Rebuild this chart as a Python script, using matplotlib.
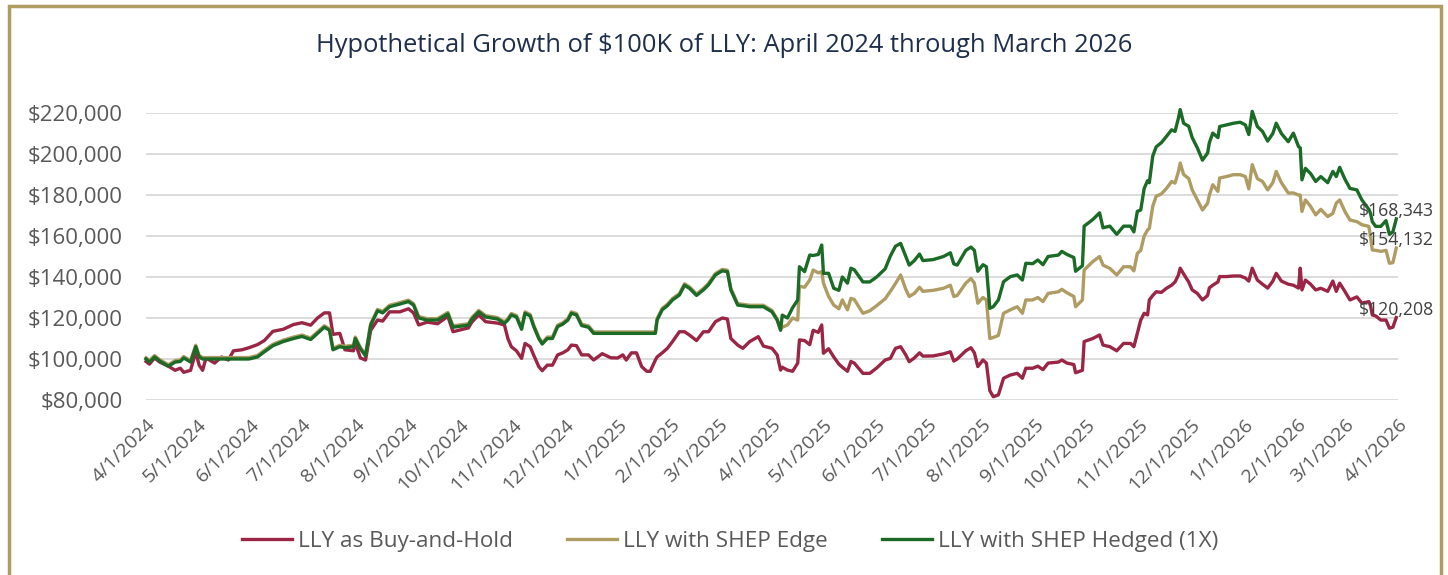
import matplotlib
matplotlib.use("Agg")
import matplotlib.pyplot as plt
import matplotlib.dates as mdates
import matplotlib.ticker as mticker
from matplotlib.patches import Rectangle
import numpy as np
import pandas as pd

plt.rcParams["font.family"] = ["Open Sans", "DejaVu Sans"]

# values, in $ thousands
dates = [
    "2024-04-01", "2024-04-03", "2024-04-06", "2024-04-09", "2024-04-14", "2024-04-18",
    "2024-04-21", "2024-04-23", "2024-04-27", "2024-04-30", "2024-05-02", "2024-05-04",
    "2024-05-06", "2024-05-11", "2024-05-15", "2024-05-19", "2024-05-22", "2024-05-27",
    "2024-05-31", "2024-06-05", "2024-06-09", "2024-06-14", "2024-06-20", "2024-06-26",
    "2024-07-01", "2024-07-06", "2024-07-10", "2024-07-14", "2024-07-17", "2024-07-19",
    "2024-07-23", "2024-07-26", "2024-07-31", "2024-08-01", "2024-08-04", "2024-08-07",
    "2024-08-10", "2024-08-14", "2024-08-17", "2024-08-21", "2024-08-27",
    "2024-09-01", "2024-09-04", "2024-09-07", "2024-09-12", "2024-09-18", "2024-09-24",
    "2024-09-27", "2024-10-06", "2024-10-08", "2024-10-12", "2024-10-16", "2024-10-23",
    "2024-10-27", "2024-10-29", "2024-10-31", "2024-11-03", "2024-11-06", "2024-11-08",
    "2024-11-11", "2024-11-13", "2024-11-16", "2024-11-18", "2024-11-21", "2024-11-24",
    "2024-11-27", "2024-11-30", "2024-12-03", "2024-12-05", "2024-12-08", "2024-12-11",
    "2024-12-15", "2024-12-18", "2024-12-23", "2024-12-28", "2025-01-01", "2025-01-04",
    "2025-01-06", "2025-01-09", "2025-01-12", "2025-01-15", "2025-01-18", "2025-01-20",
    "2025-01-23", "2025-01-24", "2025-01-27", "2025-01-30", "2025-02-02", "2025-02-06",
    "2025-02-09", "2025-02-12", "2025-02-16", "2025-02-20", "2025-02-23", "2025-02-27",
    "2025-03-03", "2025-03-06", "2025-03-08", "2025-03-12", "2025-03-15", "2025-03-19",
    "2025-03-24", "2025-03-27", "2025-04-01", "2025-04-04", "2025-04-06", "2025-04-07",
    "2025-04-10", "2025-04-13", "2025-04-16", "2025-04-17", "2025-04-20", "2025-04-23",
    "2025-04-25", "2025-04-28", "2025-04-30", "2025-05-01", "2025-05-04", "2025-05-07",
    "2025-05-10", "2025-05-12", "2025-05-15", "2025-05-17", "2025-05-19", "2025-05-24",
    "2025-05-28", "2025-06-01", "2025-06-06", "2025-06-09", "2025-06-12", "2025-06-15",
    "2025-06-18", "2025-06-20", "2025-06-23", "2025-06-26", "2025-06-28", "2025-07-04",
    "2025-07-10", "2025-07-14", "2025-07-16", "2025-07-18", "2025-07-23", "2025-07-26",
    "2025-07-28", "2025-07-30", "2025-08-02", "2025-08-04", "2025-08-06", "2025-08-08",
    "2025-08-11", "2025-08-14", "2025-08-18", "2025-08-22", "2025-08-25", "2025-08-27",
    "2025-08-31", "2025-09-03", "2025-09-06", "2025-09-09", "2025-09-15", "2025-09-17",
    "2025-09-20", "2025-09-24", "2025-09-25", "2025-09-29", "2025-09-30", "2025-10-05",
    "2025-10-09", "2025-10-11", "2025-10-15", "2025-10-19", "2025-10-23", "2025-10-27",
    "2025-10-29", "2025-10-31",
    "2025-11-02", "2025-11-04", "2025-11-06", "2025-11-07", "2025-11-09", "2025-11-11",
    "2025-11-14", "2025-11-17", "2025-11-20", "2025-11-22", "2025-11-24", "2025-11-25",
    "2025-11-27", "2025-11-30", "2025-12-02", "2025-12-05", "2025-12-08", "2025-12-11",
    "2025-12-12", "2025-12-14", "2025-12-17", "2025-12-18", "2025-12-22", "2025-12-26",
    "2025-12-30", "2026-01-02", "2026-01-04", "2026-01-06", "2026-01-09", "2026-01-12",
    "2026-01-15", "2026-01-18", "2026-01-20", "2026-01-23", "2026-01-27", "2026-01-30",
    "2026-02-02", "2026-02-03", "2026-02-04", "2026-02-06", "2026-02-09", "2026-02-12",
    "2026-02-15", "2026-02-19", "2026-02-22", "2026-02-24", "2026-02-26", "2026-03-01",
    "2026-03-04", "2026-03-08", "2026-03-11", "2026-03-15", "2026-03-16", "2026-03-17",
    "2026-03-19", "2026-03-22", "2026-03-25", "2026-03-27", "2026-03-29", "2026-03-31",
]

buy_hold = [
    98.8, 97.5, 100.5, 98.5, 96.5, 94.5, 95.5, 93.5, 94.5, 103.5, 97.0, 94.5,
    100.5, 98.0, 101.0, 99.5, 104.0, 104.5, 105.5, 107.0, 109.0, 113.5, 114.5, 116.8,
    117.7, 116.5, 120.0, 122.5, 122.5, 112.0, 112.5, 104.5, 104.0, 108.0, 100.5, 99.5,
    114.0, 119.0, 118.5, 123.0, 123.0,
    124.5, 122.5, 116.6, 118.0, 117.2, 120.8, 113.3, 115.2, 118.0, 121.5, 118.2, 117.5,
    116.6, 110.0, 106.0, 104.0, 100.3, 107.6, 106.0, 102.0, 96.3, 94.3, 97.0, 97.0,
    102.0, 103.0, 104.5, 106.8, 106.5, 102.0, 102.0, 99.5, 102.6, 100.6, 100.5, 102.0,
    99.5, 103.0, 103.0, 96.3, 94.0, 94.0,
    99.5, 101.0, 103.0, 105.2, 108.5, 113.3, 113.3, 111.6, 109.0, 113.3, 113.3, 118.2,
    120.0, 119.5, 110.0, 106.8, 105.2, 108.5, 110.9, 106.3, 105.2, 102.0, 94.6, 96.0,
    94.6, 94.0, 98.0, 109.3, 109.0, 107.0, 114.0, 113.0, 116.6, 102.8, 105.0, 101.0,
    97.5, 96.0, 94.0, 98.8, 98.0, 93.0, 93.0, 95.6, 99.5, 100.3, 105.2, 106.0,
    102.0, 98.7, 100.5, 103.0, 101.4, 101.5, 102.5, 103.5, 99.0, 100.0, 104.0, 105.5,
    103.0, 96.3, 99.5, 98.0, 84.6, 81.6, 82.5, 90.6, 92.2, 93.0, 90.6, 95.5,
    95.5, 96.5, 94.8, 98.0, 98.5, 99.5, 98.0, 97.3, 93.3, 94.5, 108.5, 110.0,
    111.7, 106.8, 106.0, 104.0, 107.6, 107.6, 106.0, 112.5,
    119.0, 122.3, 121.5, 128.8, 131.0, 132.8, 132.5, 134.5, 136.0, 137.6, 141.0, 144.3,
    141.5, 137.5, 133.7, 132.0, 128.8, 131.0, 134.7, 136.0, 137.6, 140.2, 140.2, 140.5,
    140.5, 139.5, 138.0, 144.3, 138.5, 136.5, 134.6, 138.0, 141.8, 138.0, 136.5, 136.0,
    134.6, 144.3, 133.7, 138.5, 136.5, 133.7, 134.5, 133.0, 138.0, 133.0, 137.0, 133.0,
    128.8, 130.3, 127.2, 128.0, 126.0, 121.5, 121.0, 119.0, 119.0, 115.0, 115.5, 120.208,
]

shep_edge = [
    100.6, 99.2, 101.7, 99.7, 97.2, 99.2, 99.5, 101.2, 99.2, 106.7, 101.7, 100.7,
    100.7, 100.7, 100.7, 100.7, 100.7, 100.7, 100.7, 101.7, 104.2, 107.2, 109.2, 110.7,
    111.7, 110.2, 113.2, 116.2, 114.7, 105.2, 106.7, 106.2, 106.7, 110.7, 105.7, 102.2,
    117.2, 124.2, 123.2, 126.2, 127.5,
    128.7, 127.0, 120.7, 119.7, 119.7, 122.7, 116.2, 117.2, 120.2, 123.7, 121.2, 120.2,
    118.1, 119.7, 122.2, 121.2, 115.2, 123.0, 121.7, 116.7, 110.7, 108.0, 110.7, 110.7,
    116.5, 117.7, 119.7, 123.0, 122.2, 117.0, 116.2, 113.2, 113.2, 113.2, 113.2, 113.2,
    113.2, 113.2, 113.2, 113.2, 113.2, 113.2,
    113.2, 119.7, 124.7, 126.7, 129.5, 131.9, 136.7, 135.1, 131.7, 134.4, 136.9, 141.7,
    143.7, 143.3, 134.4, 127.0, 126.7, 126.2, 126.2, 126.2, 123.7, 119.5, 114.5, 115.5,
    116.6, 120.0, 119.0, 135.5, 135.0, 138.5, 143.4, 142.0, 142.6, 137.0, 130.5, 126.3,
    124.5, 128.8, 124.0, 129.6, 129.0, 122.3, 123.5, 126.0, 129.4, 133.0, 136.8, 141.0,
    134.0, 130.5, 132.0, 135.0, 133.0, 133.5, 134.5, 136.0, 130.5, 131.0, 137.0, 139.3,
    137.0, 127.2, 130.0, 128.8, 110.0, 110.5, 111.5, 122.3, 124.0, 125.5, 122.3, 128.8,
    128.8, 130.0, 128.0, 132.0, 132.8, 134.0, 132.3, 130.5, 125.5, 128.8, 143.4, 147.5,
    150.0, 145.8, 144.2, 141.0, 145.0, 145.0, 143.0, 151.5,
    153.0, 160.0, 163.0, 163.7, 174.5, 179.4, 180.5, 183.2, 186.6, 185.8, 191.5, 195.6,
    190.0, 188.0, 182.5, 177.6, 172.7, 176.0, 180.0, 185.0, 181.8, 188.3, 189.0, 189.9,
    189.9, 189.0, 183.0, 194.8, 188.0, 186.6, 182.5, 186.0, 191.5, 186.0, 181.0, 181.0,
    180.0, 180.0, 172.0, 177.6, 174.5, 170.3, 173.0, 169.5, 171.0, 176.0, 177.6, 172.0,
    167.8, 167.0, 165.5, 164.7, 159.8, 153.2, 153.0, 152.5, 153.0, 146.7, 147.0, 154.132,
]

shep_hedged = [
    100.0, 98.5, 101.0, 99.0, 96.5, 98.5, 98.8, 100.5, 98.5, 106.0, 101.0, 100.0,
    100.0, 100.0, 100.0, 100.0, 100.0, 100.0, 100.0, 101.0, 103.5, 106.5, 108.5, 110.0,
    111.0, 109.5, 112.5, 115.5, 114.0, 104.5, 106.0, 105.5, 106.0, 110.0, 105.0, 101.5,
    116.5, 123.5, 122.5, 125.5, 126.8,
    128.0, 126.3, 120.0, 119.0, 119.0, 122.0, 115.5, 116.5, 119.5, 123.0, 120.5, 119.5,
    117.4, 119.0, 121.5, 120.5, 114.5, 122.3, 121.0, 116.0, 110.0, 107.3, 110.0, 110.0,
    115.8, 117.0, 119.0, 122.3, 121.5, 116.3, 115.5, 112.5, 112.5, 112.5, 112.5, 112.5,
    112.5, 112.5, 112.5, 112.5, 112.5, 112.5,
    112.5, 119.0, 124.0, 126.0, 128.8, 131.2, 136.0, 134.4, 131.0, 133.7, 136.2, 141.0,
    143.0, 142.6, 133.7, 126.3, 126.0, 125.5, 125.5, 125.5, 123.0, 119.0, 114.0, 121.4,
    120.0, 125.0, 128.8, 145.0, 142.6, 150.7, 150.5, 151.0, 155.6, 141.8, 141.8, 134.5,
    133.5, 140.0, 137.0, 144.3, 143.5, 137.6, 137.6, 140.0, 144.0, 150.2, 155.0, 156.4,
    150.0, 145.8, 148.0, 151.2, 148.0, 148.5, 150.0, 151.8, 146.4, 145.8, 153.0, 154.6,
    153.0, 142.8, 146.0, 145.0, 124.7, 125.5, 128.8, 137.7, 140.2, 141.0, 138.5, 146.7,
    146.5, 148.3, 146.0, 150.0, 150.7, 152.5, 151.0, 149.5, 142.8, 145.5, 164.8, 168.0,
    171.3, 164.0, 164.8, 160.8, 164.8, 164.8, 162.0, 172.0,
    172.7, 183.2, 187.0, 186.0, 199.0, 203.5, 205.5, 208.6, 211.8, 211.0, 217.6, 221.7,
    215.0, 213.5, 208.0, 203.0, 197.0, 200.5, 205.5, 210.2, 208.0, 213.4, 214.2, 215.0,
    215.5, 214.2, 209.5, 220.8, 213.4, 211.0, 206.3, 210.0, 215.0, 210.0, 206.0, 210.2,
    203.6, 203.0, 187.4, 193.0, 190.5, 186.6, 189.0, 186.0, 191.5, 189.0, 193.5, 187.8,
    183.2, 182.5, 177.5, 173.0, 171.0, 167.0, 164.7, 164.7, 167.5, 160.8, 162.0, 168.343,
]

series_names = ["LLY as Buy-and-Hold", "LLY with SHEP Edge", "LLY with SHEP Hedged (1X)"]
series_colors = ["#9A2545", "#AF9C62", "#1B6B27"]

x = pd.to_datetime(dates)
all_series = [np.array(s) * 1000 for s in (buy_hold, shep_edge, shep_hedged)]

fig = plt.figure(figsize=(14.48, 5.75), dpi=100)
ax = fig.add_axes([146 / 1448, 1 - 400 / 575, (1398 - 146) / 1448, (400 - 113) / 575])

# gold frame around the chart
fig.patches.append(Rectangle((9 / 1448, -0.05), (1441 - 9) / 1448, 1.05 - 6 / 575,
                             transform=fig.transFigure, fill=False,
                             edgecolor="#AF9C62", linewidth=2.5))

for vals, name, color in zip(all_series, series_names, series_colors):
    ax.plot(x, vals, color=color, linewidth=2.4, label=name, clip_on=False,
            solid_joinstyle="round")

for vals, color in zip(all_series, series_colors):
    ax.annotate(f"${vals[-1]:,.0f}", xy=(x[-1], vals[-1]), xytext=(0, 5.5),
                textcoords="offset points", ha="center", va="center",
                fontsize=12.7, color="#404040")

ax.set_xlim(pd.Timestamp("2024-04-01"), pd.Timestamp("2026-04-01"))
ax.set_ylim(80000, 220000)
ax.yaxis.set_major_locator(mticker.MultipleLocator(20000))
ax.yaxis.set_major_formatter(mticker.FuncFormatter(lambda v, _: f"${v:,.0f}"))
ax.xaxis.set_major_locator(mdates.MonthLocator())
ax.xaxis.set_major_formatter(
    mticker.FuncFormatter(lambda v, _: (lambda d: f"{d.month}/{d.day}/{d.year}")(mdates.num2date(v))))

ax.grid(axis="y", color="#D9D9D9", linewidth=1.3)
ax.set_axisbelow(True)
for s in ax.spines.values():
    s.set_visible(False)
ax.tick_params(axis="both", length=0, colors="#595959")
ax.tick_params(axis="y", pad=16.5, labelsize=16)
ax.tick_params(axis="x", pad=11, labelsize=14)
for lab in ax.get_xticklabels():
    lab.set_rotation(45)
    lab.set_ha("right")
    lab.set_rotation_mode("anchor")

fig.text(0.5, 1 - 45 / 575, "Hypothetical Growth of $100K of LLY: April 2024 through March 2026",
         ha="center", va="center", fontsize=18.4, color="#1F2E4A")

fig.legend(loc="center", bbox_to_anchor=(0.5 + 6 / 1448, 1 - 541 / 575), ncol=3, frameon=False,
           fontsize=16.2, labelcolor="#595959", handlelength=2.25, handletextpad=0.25,
           columnspacing=2.4)

fig.savefig("out.png", dpi=100)
